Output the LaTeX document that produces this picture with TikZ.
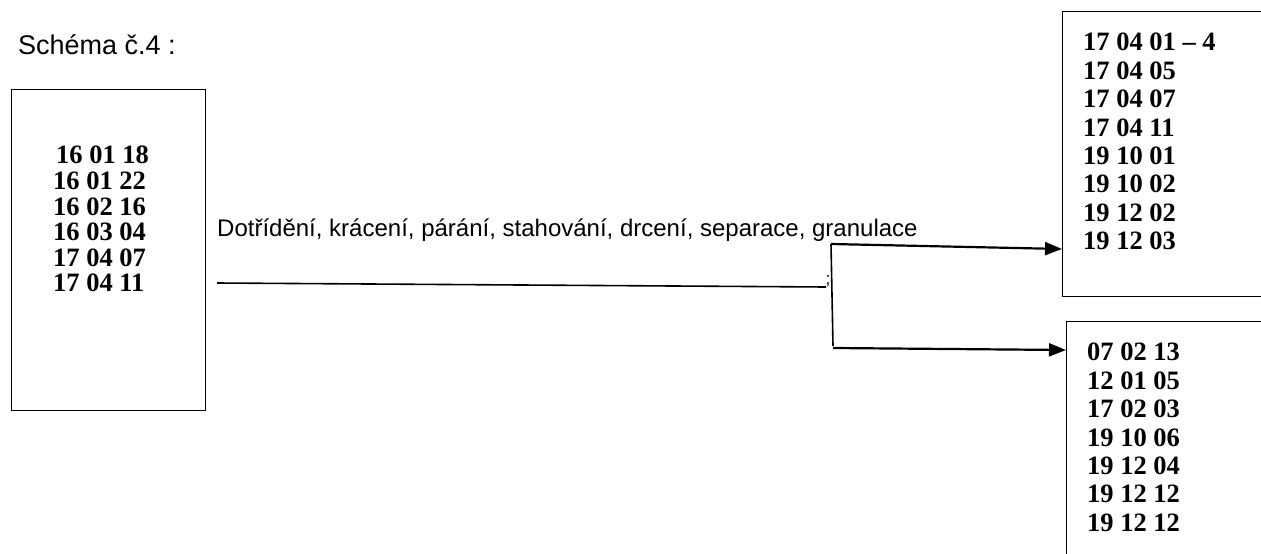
\documentclass[tikz,border=0pt]{standalone}
\usepackage{fontspec}
\setmainfont{Liberation Serif}
\newfontfamily\labelfont{Liberation Sans}
\usetikzlibrary{arrows.meta}

\tikzset{
  frame/.style={draw, line width=1.4pt, minimum width=#1, inner sep=0, anchor=north west},
  codes/.style={font=\fontsize{26.5}{25.6}\selectfont\bfseries, align=left, anchor=north west, inner sep=0},
  codesr/.style={font=\fontsize{26.5}{28.4}\selectfont\bfseries, align=left, anchor=north west, inner sep=0},
  caption/.style={font=\labelfont\fontsize{24}{26}\selectfont, anchor=west, inner sep=0},
  flow/.style={line width=1.6pt},
  feed/.style={line width=2.2pt, -{Triangle[length=17pt,width=13pt]}}
}

\begin{document}
\begin{tikzpicture}[x=1pt,y=-1pt]
\useasboundingbox (0,0) rectangle (1261,554);
\clip (0,0) rectangle (1261,554);

% heading
\node[caption, font=\labelfont\fontsize{27}{29}\selectfont] (title) at (18,45) {Schéma č.4 :};

% input box
\node[frame=194, minimum height=321] (src) at (11,89) {};
\node[codes] (srclist) at (53,146) {\hspace*{3pt}16 01 18\\16 01 22\\16 02 16\\16 03 04\\17 04 07\\17 04 11};

% output boxes (open to the right)
\node[frame=230, minimum height=285] (outA) at (1062,11) {};
\node[codesr] (outAlist) at (1083,33) {17 04 01 -- 4\\17 04 05\\17 04 07\\17 04 11\\19 10 01\\19 10 02\\19 12 02\\19 12 03};

\node[frame=230, minimum height=260] (outB) at (1066,321) {};
\node[codesr] (outBlist) at (1087,343) {07 02 13\\12 01 05\\17 02 03\\19 10 06\\19 12 04\\19 12 12\\19 12 12};

% process label
\node[caption] (proc) at (217,230) {Dotřídění, krácení, párání, stahování, drcení, separace, granulace};

% process line and split
\coordinate (lineL) at (217,283);
\coordinate (lineR) at (826,287);
\coordinate (splitT) at (831,244);
\coordinate (splitB) at (833,346);
\draw[flow] (lineL) -- (lineR);
\node[font=\labelfont\fontsize{17}{17}\selectfont, inner sep=0] (tick) at (828,281) {;};
\draw[flow] (splitT) -- (splitB);
\draw[feed] (splitT) -- (outA.west |- 0,249);
\draw[feed] (833,348) -- (outB.west |- 0,350);
\end{tikzpicture}
\end{document}
